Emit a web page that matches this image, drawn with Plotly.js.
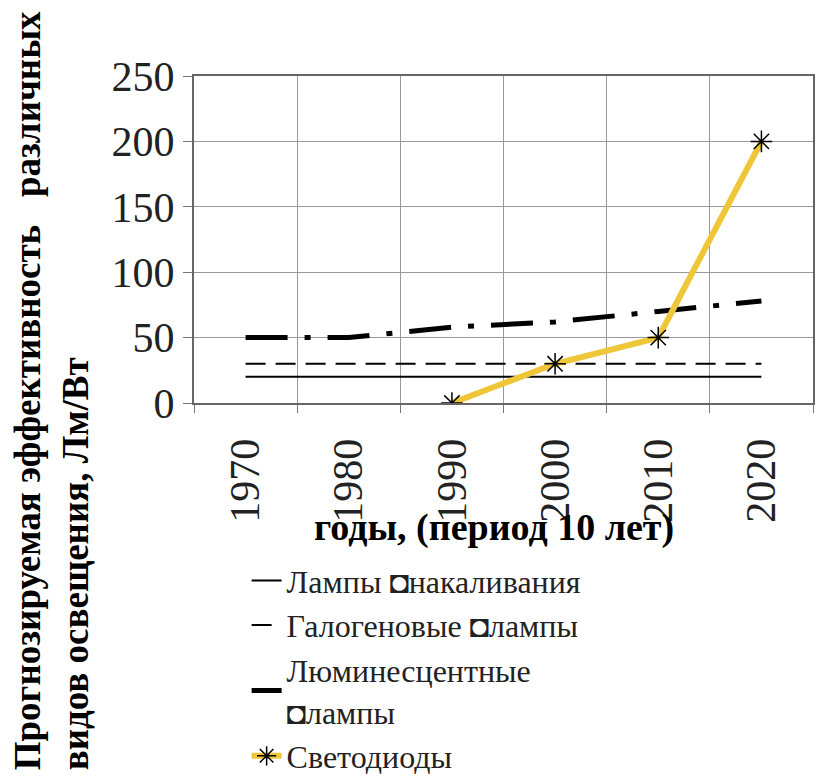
<!DOCTYPE html>
<html>
<head>
<meta charset="utf-8">
<script src="https://cdn.plot.ly/plotly-3.0.1.min.js"></script>
<style>html,body{margin:0;padding:0;background:#fff;}#chart{width:817px;height:780px;}</style>
</head>
<body>
<div id="chart"></div>
<script>
const years = ['1970', '1980', '1990', '2000', '2010', '2020'];
const incandescent = [20, 20, 20, 20, 20, 20];
const halogen = [30, 30, 30, 30, 30, 30];
const fluorescent = [50, 50, 58, 62, 70, 78];
const ledYears = ['1990', '2000', '2010', '2020'];
const led = [0, 30, 50, 200];
const seriesNames = ['Лампы ◘накаливания', 'Галогеновые ◘лампы', 'Люминесцентные<br>◘лампы', 'Светодиоды'];
const yTicks = [0, 50, 100, 150, 200, 250];

const serif = 'Liberation Serif, Times New Roman, serif';

const traces = [
  {x: years, y: incandescent, name: seriesNames[0], mode: 'lines', line: {color: '#000', width: 2}},
  {x: years, y: halogen, name: seriesNames[1], mode: 'lines', line: {color: '#000', width: 2, dash: '20px,10px'}},
  {x: years, y: fluorescent, name: seriesNames[2], mode: 'lines', line: {color: '#000', width: 5, dash: '42px,17px,6px,17px'}},
  {x: ledYears, y: led, name: seriesNames[3], mode: 'lines+markers',
   line: {color: '#EFC637', width: 6},
   marker: {symbol: 'asterisk-open', size: 18, color: '#000', line: {color: '#111', width: 1.5}}}
];

const layout = {
  width: 817, height: 780,
  margin: {l: 194, r: 4, t: 76, b: 377, autoexpand: false},
  paper_bgcolor: '#fff', plot_bgcolor: '#fff',
  showlegend: true,
  xaxis: {
    type: 'category', range: [-0.5, 5.5],
    tickangle: -90,
    tickfont: {family: serif, size: 42, color: '#222'},
    ticks: 'outside', ticklen: 8, tickcolor: '#777', tickson: 'boundaries',
    showgrid: true, gridcolor: '#999', gridwidth: 1,
    showline: true, mirror: true, linecolor: '#666', linewidth: 2,
    ticklabelstandoff: 17,
    zeroline: false, fixedrange: true
  },
  yaxis: {
    range: [0, 250], tickvals: yTicks, ticktext: yTicks.map(String),
    tickfont: {family: serif, size: 42, color: '#222'},
    ticks: 'outside', ticklen: 9, tickcolor: '#777',
    showgrid: true, gridcolor: '#999', gridwidth: 1,
    showline: true, mirror: true, linecolor: '#666', linewidth: 2,
    zeroline: false, fixedrange: true
  },
  legend: {
    x: 0.085, xanchor: 'left', y: -0.459, yanchor: 'top',
    font: {family: serif, size: 32, color: '#222'},
    itemwidth: 30, tracegroupgap: 0, bgcolor: 'rgba(0,0,0,0)'
  },
  annotations: [
    {text: '<b>годы, (период 10 лет)</b>', xref: 'paper', yref: 'paper',
     x: 0.485, y: -0.382, xanchor: 'center', yanchor: 'middle', showarrow: false,
     font: {family: serif, size: 38, color: '#000'}},
    {text: '<b>Прогнозируемая эффективность   различных<br>видов освещения, Лм/Вт</b>',
     xref: 'paper', yref: 'paper', x: -0.229, y: 0.0367, xanchor: 'center', yanchor: 'middle',
     textangle: -90, align: 'left', showarrow: false,
     font: {family: serif, size: 37, color: '#000'}}
  ]
};

Plotly.newPlot('chart', traces, layout, {displayModeBar: false, staticPlot: true});
</script>
</body>
</html>
